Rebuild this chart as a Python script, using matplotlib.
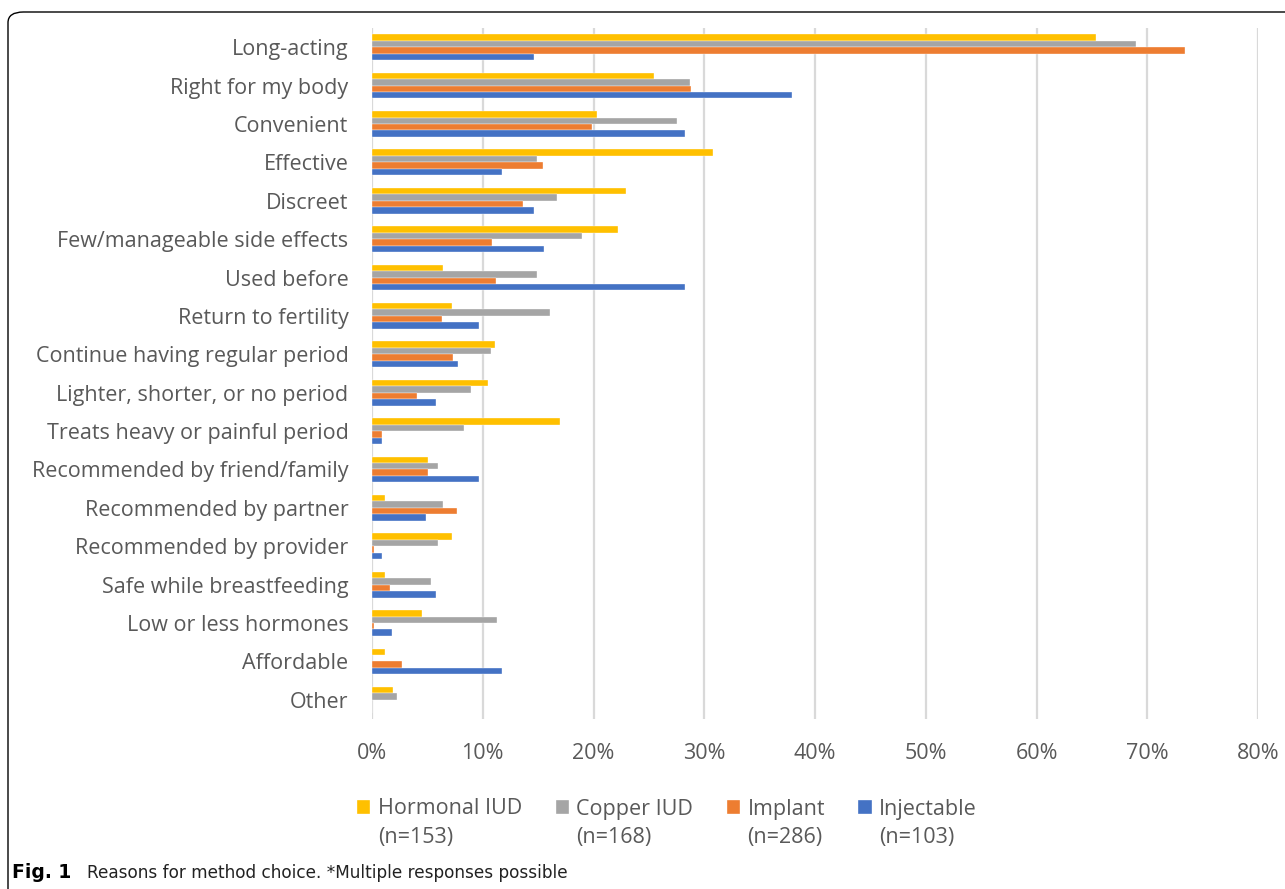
"""Reasons for method choice: grouped horizontal bars (Excel style)."""

import matplotlib.pyplot as plt
import numpy as np
from matplotlib.patches import FancyBboxPatch
from matplotlib.ticker import FuncFormatter

reasons = [
    "Long-acting", "Right for my body", "Convenient", "Effective", "Discreet",
    "Few/manageable side effects", "Used before", "Return to fertility",
    "Continue having regular period", "Lighter, shorter, or no period",
    "Treats heavy or painful period", "Recommended by friend/family",
    "Recommended by partner", "Recommended by provider",
    "Safe while breastfeeding", "Low or less hormones", "Affordable", "Other",
]

hormonal_iud = [65.4, 25.5, 20.3, 30.8, 22.9, 22.2, 6.4, 7.2, 11.1, 10.5,
                17.0, 5.1, 1.2, 7.2, 1.2, 4.5, 1.2, 1.9]
copper_iud = [69.0, 28.7, 27.5, 14.9, 16.7, 19.0, 14.9, 16.1, 10.7, 8.9,
              8.3, 6.0, 6.4, 6.0, 5.3, 11.3, 0.0, 2.3]
implant = [73.4, 28.8, 19.9, 15.4, 13.6, 10.8, 11.2, 6.3, 7.3, 4.1,
           0.9, 5.1, 7.7, 0.2, 1.6, 0.2, 2.7, 0.0]
injectable = [14.6, 37.9, 28.3, 11.7, 14.6, 15.5, 28.3, 9.7, 7.8, 5.8,
              0.9, 9.7, 4.9, 0.9, 5.8, 1.8, 11.7, 0.0]

series_names = ["Hormonal IUD", "Copper IUD", "Implant", "Injectable"]
series_n = ["(n=153)", "(n=168)", "(n=286)", "(n=103)"]
colors = ["#FFC000", "#A5A5A5", "#ED7D31", "#4472C4"]

FONT = ["Open Sans", "DejaVu Sans"]
TEXT = "#595959"
FS = 15.5

fig = plt.figure(figsize=(12.85, 8.89), dpi=100)
W, H = 1285, 889
ax = fig.add_axes([372 / W, 1 - 719 / H, (1258 - 372) / W, (719 - 28) / H])

y = np.arange(len(reasons))
bh = 0.168
for i, (vals, col) in enumerate(zip([hormonal_iud, copper_iud, implant, injectable], colors)):
    ax.barh(y + (i - 1.5) * bh, vals, height=bh, color=col,
            edgecolor="white", linewidth=0.25, label=series_names[i], zorder=3)

ax.set_ylim(len(reasons) - 0.5, -0.5)
ax.set_xlim(0, 80)
ax.set_xticks(np.arange(0, 81, 10))
ax.xaxis.set_major_formatter(FuncFormatter(lambda v, p: f"{v:.0f}%"))
ax.set_yticks(y)
ax.set_yticklabels(reasons)
ax.grid(axis="x", color="#D9D9D9", linewidth=1.6, zorder=0)
for s in ax.spines.values():
    s.set_visible(False)
ax.tick_params(length=0, labelsize=FS, labelcolor=TEXT)
ax.tick_params(axis="x", pad=17)
ax.tick_params(axis="y", pad=17)
for lab in ax.get_xticklabels() + ax.get_yticklabels():
    lab.set_family(FONT)

# legend: first line via legend, "(n=...)" placed under each label
leg = fig.legend(loc="center left", bbox_to_anchor=(357 / W, 1 - 809 / H), ncol=4,
                 frameon=False, prop={"family": FONT, "size": FS},
                 handlelength=0.62, handleheight=0.62, handletextpad=0.35,
                 columnspacing=1.55, borderpad=0, borderaxespad=0)
for t in leg.get_texts():
    t.set_color(TEXT)

fig.canvas.draw()
inv = fig.transFigure.inverted()
for t, n in zip(leg.get_texts(), series_n):
    bb = t.get_window_extent()
    x0 = inv.transform((bb.x0, bb.y0))[0]
    fig.text(x0, 1 - 838 / H, n, fontsize=FS, family=FONT, color=TEXT,
             ha="left", va="center")

# caption
fig.text(12 / W, 1 - 873 / H, "Fig. 1", fontsize=13.5, fontweight="bold",
         family=["Liberation Sans Narrow", "DejaVu Sans"], va="center", ha="left")
fig.text(87 / W, 1 - 873 / H, "Reasons for method choice. *Multiple responses possible",
         fontsize=12.2, family=["Liberation Sans Narrow", "DejaVu Sans"],
         va="center", ha="left", color="#222222")

# frame around figure box
frame = FancyBboxPatch((8 / W, -0.2), 1.2, 1.2 - 12 / H,
                       boxstyle="round,pad=0,rounding_size=0.012",
                       transform=fig.transFigure, fill=False,
                       edgecolor="black", linewidth=1.0)
fig.patches.append(frame)

fig.savefig("out.png", dpi=100)
